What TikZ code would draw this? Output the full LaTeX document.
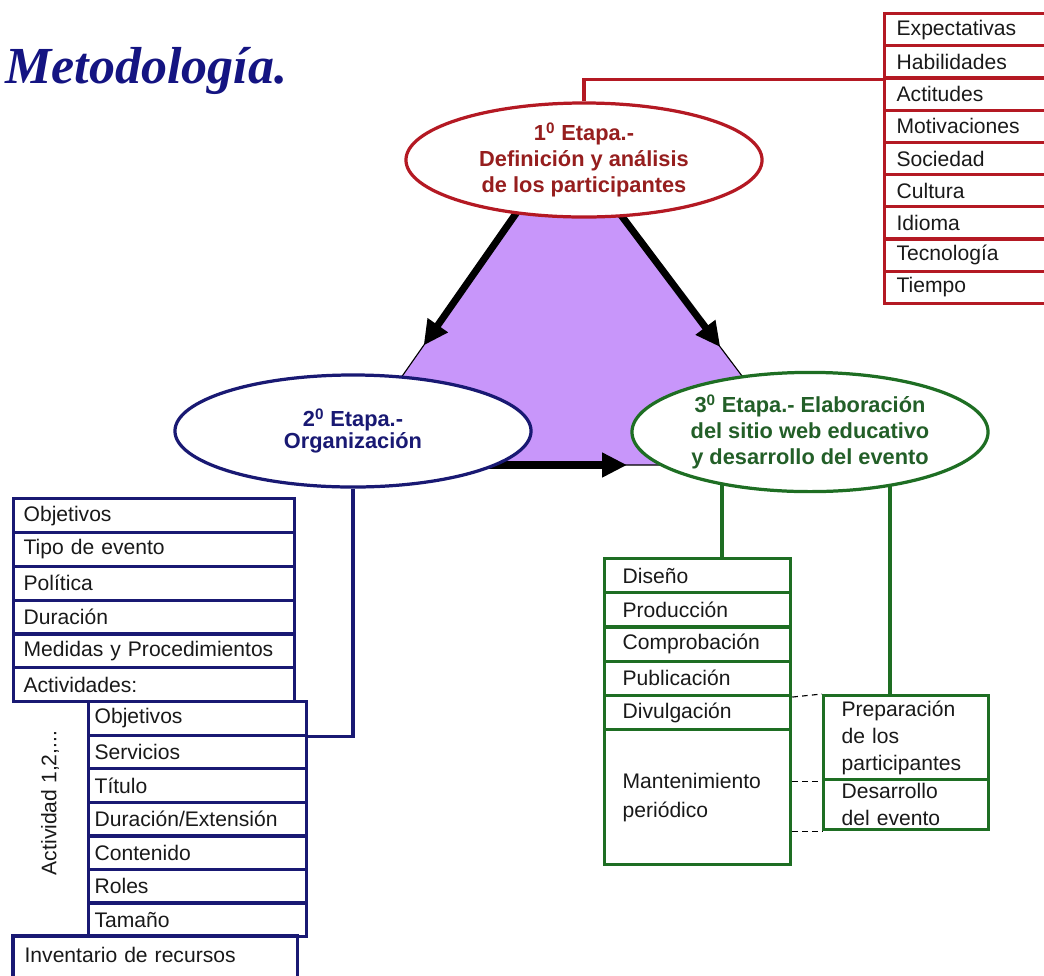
\documentclass[tikz,border=0pt]{standalone}
\usepackage{fontspec}
\setmainfont{Liberation Sans}
\newfontfamily\titlefont{Liberation Serif}
\usetikzlibrary{arrows.meta,positioning,shapes.geometric,calc,backgrounds}

\definecolor{etred}{RGB}{180,25,35}
\definecolor{etredtext}{RGB}{150,30,30}
\definecolor{etnavy}{RGB}{25,25,115}
\definecolor{ettitle}{RGB}{20,20,130}
\definecolor{etgreen}{RGB}{30,110,35}
\definecolor{etgreentext}{RGB}{35,95,40}
\definecolor{lila}{RGB}{200,150,250}
\definecolor{ink}{RGB}{25,25,25}

\begin{document}
\begin{tikzpicture}[x=0.025cm, y=-0.025cm,
    every node/.style={font=\fontsize{15}{18}\selectfont, text=ink},
    listrow/.style={draw, line width=2.3pt, anchor=north west, align=left, inner ysep=0pt},
    redrow/.style={listrow, draw=etred, minimum height=0.805cm, inner xsep=0.3cm, text width=4.0cm},
    navyrow/.style={listrow, draw=etnavy, minimum height=0.846cm, inner xsep=0.25cm, text width=6.525cm},
    subrow/.style={listrow, draw=etnavy, minimum height=0.839cm, inner xsep=0.15cm, text width=5.15cm},
    greenrow/.style={listrow, draw=etgreen, minimum height=0.855cm, inner xsep=0.45cm, text width=3.75cm},
    prepbox/.style={listrow, draw=etgreen, inner xsep=0.45cm, text width=3.225cm, font=\fontsize{15}{19.1}\selectfont},
    stage/.style={ellipse, draw, fill=white, line width=2.3pt, inner sep=0pt, minimum width=8.9cm, align=center},
    bigarrow/.style={line width=5pt, -{Triangle[length=0.62cm, width=0.58cm]}},
    redline/.style={draw=etred, line width=2.3pt},
    navyline/.style={draw=etnavy, line width=2.3pt},
    greenline/.style={draw=etgreen, line width=2.3pt},
    dotline/.style={line width=0.8pt, dash pattern=on 4pt off 3pt}]
    \useasboundingbox (0,0) rectangle (1044,975);

    % Title
    \node[anchor=base west, inner sep=0pt, text=ettitle, font=\titlefont\bfseries\itshape\fontsize{37}{37}\selectfont] (title) at (5,83) {Metodología.};

    % Stages
    \node[stage, draw=etred, text=etredtext, minimum height=2.85cm, font=\fontsize{15.5}{18.5}\selectfont\bfseries] (et1) at (584,160)
        {1\textsuperscript{0} Etapa.-\\Definición y análisis\\de los participantes};
    \node[stage, draw=etnavy, text=etnavy, minimum height=2.8cm, font=\fontsize{15.5}{13}\selectfont\bfseries] (et2) at (353,431)
        {2\textsuperscript{0} Etapa.-\\Organización};
    \node[stage, draw=etgreen, text=etgreentext, minimum height=2.98cm, font=\fontsize{15.5}{18.5}\selectfont\bfseries] (et3) at (810,432)
        {3\textsuperscript{0} Etapa.- Elaboración\\del sitio web educativo\\y desarrollo del evento};

    % Participants
    \foreach \t [count=\i] in {Expectativas,Habilidades,Actitudes,Motivaciones,Sociedad,Cultura,Idioma,Tecnología,Tiempo}
        \node[redrow] (r\i) at (883,{12+32.2*(\i-1)}) {\t};

    % Organization
    \foreach \t [count=\i] in {Objetivos,Tipo de evento,Política,Duración,Medidas y Procedimientos,Actividades:}
        \node[navyrow] (m\i) at (12,{497+33.83*(\i-1)}) {\t};
    \foreach \t [count=\i] in {Objetivos,Servicios,Título,Duración/Extensión,Contenido,Roles,Tamaño}
        \node[subrow] (s\i) at (87,{700+33.57*(\i-1)}) {\t};
    \node[rotate=90] (act) at (50,803) {Actividad 1,2,...};
    \node[navyrow, draw=none] (inv) at (13,936) {Inventario de recursos};
    \draw[navyline] ($(inv.north west)+(0,60)$) -- (inv.north west) -- (inv.north east) -- ++(0,60);

    % Web site and event
    \foreach \t [count=\i] in {Diseño,Producción,Comprobación,Publicación,Divulgación}
        \node[greenrow] (d\i) at (603,{557+34.2*(\i-1)}) {\t};
    \node[greenrow, minimum height=3.375cm, font=\fontsize{15}{20.6}\selectfont] (mant) at (603,728) {Mantenimiento\\periódico};
    \node[prepbox, minimum height=2.1cm] (p1) at (822,694) {Preparación\\de los\\participantes};
    \node[prepbox, minimum height=1.25cm] (p2) at (822,778) {Desarrollo\\del evento};

    \begin{scope}[on background layer]
        % cycle of stages
        \coordinate (apex) at (566,142);
        \coordinate (lft) at (340,465);
        \coordinate (rgt) at (809,465);
        \filldraw[fill=lila, draw=black, line width=0.8pt] (apex) -- (lft) -- (rgt) -- cycle;
        \draw[bigarrow] ($(apex)!0.15!(lft)$) -- ($(apex)!0.63!(lft)$);
        \draw[bigarrow] ($(apex)!0.15!(rgt)$) -- ($(apex)!0.635!(rgt)$);
        \draw[bigarrow] ($(lft)!0.2!(rgt)$) -- ($(lft)!0.612!(rgt)$);

        % connectors
        \draw[redline] (et1.north) |- (r2.south west);
        \draw[navyline] (et2.south) |- (s1.south east);
        \draw[greenline] ($(d1.north west)+(119,0)$) |- (et3.center);
        \draw[greenline] ($(p1.north west)+(68,0)$) |- (et3.center);
        \draw[dotline] (d4.south east) -- (p1.north west);
        \draw[dotline] (p1.south west -| mant.east) -- (p1.south west);
        \draw[dotline] (p2.south west -| mant.east) -- (p2.south west);
    \end{scope}
\end{tikzpicture}
\end{document}
